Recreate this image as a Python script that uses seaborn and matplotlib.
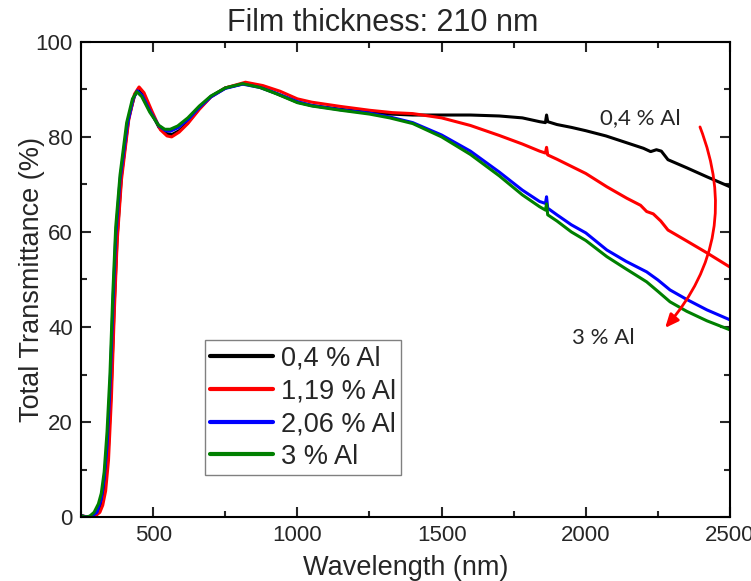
import pandas as pd
import matplotlib
matplotlib.use('Agg')
import matplotlib.pyplot as plt
from matplotlib.ticker import MultipleLocator
import seaborn as sns

# Series (wavelength in nm, transmittance in %)
labels = ['0,4 % Al', '1,19 % Al', '2,06 % Al', '3 % Al']
colors = ['black', 'red', 'blue', 'green']

wl_04 = [250, 270, 290, 305, 315, 325, 335, 345, 355, 365, 375, 390, 415, 435, 448, 465, 490, 520,
         545, 565, 590, 620, 660, 700, 750, 815, 870, 920, 1000, 1050, 1150, 1250, 1320, 1400, 1500,
         1600, 1700, 1780, 1840, 1860, 1864, 1868, 1900, 1950, 2000, 2070, 2130, 2200, 2225, 2245,
         2262, 2285, 2350, 2420, 2500]
t_04 = [0.3, 0.0, 0.2, 0.6, 1.5, 3.5, 7.5, 15, 28, 45, 59, 72, 84, 88.6, 90.0, 88.8, 85.5, 82.0,
        80.7, 80.5, 81.3, 83.0, 86.0, 88.5, 90.3, 91.2, 90.5, 89.3, 87.3, 86.6, 85.8, 85.1, 84.8, 84.6,
        84.6, 84.6, 84.4, 84.0, 83.2, 83.0, 84.6, 83.2, 82.6, 82.0, 81.3, 80.2, 79.0, 77.6, 76.9, 77.3,
        77.0, 75.2, 73.5, 71.6, 69.5]

wl_119 = [250, 275, 300, 315, 325, 335, 345, 355, 365, 375, 390, 415, 435, 451, 468, 495, 525, 548,
          564, 590, 620, 660, 700, 750, 820, 880, 940, 1000, 1050, 1150, 1250, 1330, 1400, 1500, 1600,
          1700, 1780, 1840, 1860, 1864, 1868, 1900, 1950, 2000, 2073, 2142, 2190, 2211, 2234, 2260,
          2285, 2350, 2420, 2500]
t_119 = [0.3, 0.0, 0.3, 1.0, 2.5, 5.5, 12, 25, 43, 58, 71, 83.5, 89.0, 90.5, 89.3, 85.5, 81.5, 80.2,
         80.0, 81.0, 82.8, 85.8, 88.4, 90.3, 91.5, 90.8, 89.6, 88.0, 87.3, 86.4, 85.6, 85.1, 84.9, 84.0,
         82.4, 80.3, 78.5, 77.0, 76.6, 77.8, 76.2, 75.3, 73.8, 72.3, 69.5, 67.1, 65.6, 64.3, 63.8, 62.3,
         60.4, 58.1, 55.6, 52.6]

wl_206 = [250, 270, 290, 305, 320, 330, 340, 350, 360, 370, 385, 410, 430, 445, 462, 490, 520, 543,
          560, 585, 620, 660, 700, 750, 810, 870, 930, 1000, 1050, 1150, 1250, 1320, 1400, 1500, 1600,
          1700, 1780, 1840, 1860, 1864, 1868, 1900, 1950, 2000, 2073, 2140, 2211, 2250, 2292, 2350,
          2420, 2500]
t_206 = [0.3, 0.0, 0.3, 1.0, 3.8, 8, 15, 27, 44, 59, 71, 82.5, 88, 89.7, 88.7, 85.3, 82.3, 81.3,
         81.2, 81.9, 83.6, 86.2, 88.4, 90.2, 91.1, 90.4, 89.1, 87.4, 86.6, 85.7, 85.0, 84.2, 83.0, 80.4,
         77.0, 72.6, 68.8, 66.4, 66.0, 67.4, 65.0, 63.6, 61.5, 59.8, 56.2, 53.8, 51.6, 49.9, 47.8, 45.8,
         43.6, 41.5]

wl_3 = [250, 265, 280, 295, 310, 320, 330, 340, 350, 360, 370, 385, 408, 428, 443, 460, 488, 518,
        540, 559, 585, 620, 660, 700, 750, 810, 870, 930, 1000, 1050, 1150, 1250, 1320, 1400, 1500,
        1600, 1700, 1780, 1840, 1860, 1864, 1868, 1900, 1950, 2000, 2073, 2140, 2211, 2250, 2292, 2350,
        2420, 2500]
t_3 = [0.3, 0.0, 0.2, 1.0, 2.8, 5, 9.5, 18, 30, 47, 61, 72, 83, 88, 89.5, 88.5, 85.2, 82.5,
       81.6, 81.6, 82.3, 84.0, 86.5, 88.6, 90.3, 91.2, 90.4, 89.0, 87.2, 86.5, 85.6, 84.8, 84.0, 82.8,
       80.0, 76.3, 71.8, 67.8, 65.3, 64.6, 65.9, 63.6, 62.3, 60.0, 58.2, 54.8, 52.2, 49.5, 47.5, 45.3,
       43.3, 41.3, 39.4]

series = [(wl_04, t_04), (wl_119, t_119), (wl_206, t_206), (wl_3, t_3)]
frames = []
for lab, (wl, t) in zip(labels, series):
    frames.append(pd.DataFrame({'wavelength': wl, 'transmittance': t, 'sample': lab}))
df = pd.concat(frames, ignore_index=True)

sns.set_style('ticks')
plt.rcParams['font.family'] = ['Liberation Sans', 'DejaVu Sans']

fig = plt.figure(figsize=(7.51, 5.81), dpi=100)
ax = fig.add_axes([0.108, 0.110, 0.864, 0.818])

sns.lineplot(data=df, x='wavelength', y='transmittance', hue='sample', hue_order=labels,
             palette=dict(zip(labels, colors)), estimator=None, sort=False, linewidth=2.2, ax=ax)

ax.set_xlim(250, 2500)
ax.set_ylim(0, 100)
ax.xaxis.set_major_locator(MultipleLocator(500))
ax.xaxis.set_minor_locator(MultipleLocator(250))
ax.yaxis.set_major_locator(MultipleLocator(20))
ax.yaxis.set_minor_locator(MultipleLocator(10))
ax.tick_params(which='both', direction='in', top=True, right=True, width=1.5, labelsize=16, pad=6)
ax.tick_params(which='major', length=7)
ax.tick_params(which='minor', length=4)
for sp in ax.spines.values():
    sp.set_linewidth(1.5)
    sp.set_color('black')

ax.set_xlabel('Wavelength (nm)', fontsize=19.5, labelpad=6)
ax.set_ylabel('Total Transmittance (%)', fontsize=19.5, labelpad=-7)
ax.set_title('Film thickness: 210 nm', fontsize=22, pad=8, x=0.465)

handles, labs = ax.get_legend_handles_labels()
leg = ax.legend(handles, labs, loc='lower left', bbox_to_anchor=(0.191, 0.088), borderaxespad=0,
                fontsize=19.5, handlelength=2.3, handletextpad=0.3, labelspacing=0.25,
                borderpad=0.2, fancybox=False, framealpha=1, edgecolor='grey')
leg.get_frame().set_linewidth(1.0)
for h in leg.get_lines():
    h.set_linewidth(3)

# annotations and the curved red arrow
ax.text(2188, 84.0, '0,4 % Al', fontsize=16, family=['Lato', 'DejaVu Sans'], ha='center', va='center')
ax.text(2060, 37.7, '3 % Al', fontsize=16, family=['Lato', 'DejaVu Sans'], ha='center', va='center')
ax.annotate('', xy=(2275, 39.8), xytext=(2396, 82.1),
            arrowprops=dict(arrowstyle='-|>,head_length=0.8,head_width=0.35', color='red', lw=2,
                            connectionstyle='arc3,rad=-0.3', shrinkA=0, shrinkB=0))

fig.savefig('out.png', dpi=100)
